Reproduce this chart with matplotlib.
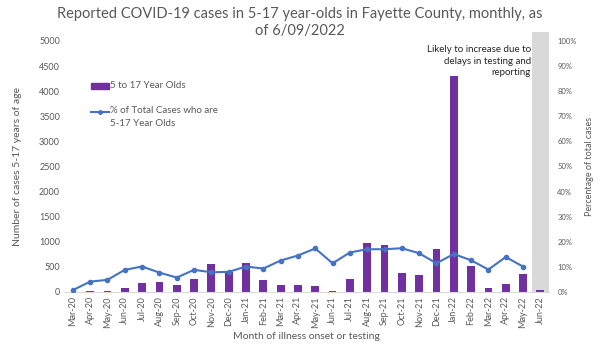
import matplotlib.pyplot as plt
from matplotlib.lines import Line2D
from matplotlib.patches import Rectangle

plt.rcParams['font.family'] = ['Lato', 'DejaVu Sans']

months = ["Mar-20", "Apr-20", "May-20", "Jun-20", "Jul-20", "Aug-20", "Sep-20",
          "Oct-20", "Nov-20", "Dec-20", "Jan-21", "Feb-21", "Mar-21", "Apr-21",
          "May-21", "Jun-21", "Jul-21", "Aug-21", "Sep-21", "Oct-21", "Nov-21",
          "Dec-21", "Jan-22", "Feb-22", "Mar-22", "Apr-22", "May-22", "Jun-22"]
cases = [5, 20, 20, 73, 180, 200, 145, 250, 550, 400, 580, 230, 145, 145,
         112, 20, 265, 965, 930, 370, 337, 860, 4300, 510, 73, 160, 357, 40]
# percent of total cases (no value for the last, partial month)
pct = [0.7, 4.1, 4.8, 8.8, 10.1, 7.7, 5.7, 8.8, 7.8, 8.0, 10.1, 9.3, 12.5, 14.5,
       17.3, 11.4, 15.7, 17.0, 17.0, 17.4, 15.4, 11.4, 15.1, 12.6, 8.9, 13.9, 10.1]

grey = '#595959'
purple = '#7030A0'
blue = '#4472C4'

fig = plt.figure(figsize=(6, 3.5), dpi=100)
fig.patch.set_facecolor('#ffffff')
ax = fig.add_axes([0.107, 0.166, 0.808, 0.717])
x = list(range(len(months)))

# shaded partial month
ax.axvspan(len(months) - 1.5, len(months) - 0.5, ymin=0, ymax=1.035,
           color='#d9d9d9', clip_on=False, zorder=0, lw=0)

ax.bar(x, cases, width=0.45, color=purple, zorder=2)
ax.set_ylim(0, 5000)
ax.set_xlim(-0.5, len(months) - 0.5)
ax.set_yticks(range(0, 5001, 500))
ax.set_xticks(x)
ax.set_xticklabels(months, rotation=90)
ax.tick_params(axis='both', length=0, labelsize=6.5, colors=grey, pad=3)
for s in ['top', 'right', 'left']:
    ax.spines[s].set_visible(False)
ax.spines['bottom'].set_color('#d9d9d9')
ax.set_ylabel("Number of cases 5-17 years of age", fontsize=7.5, color=grey, labelpad=12)
ax.set_xlabel("Month of illness onset or testing", fontsize=7.5, color=grey, labelpad=3)

ax2 = ax.twinx()
ax2.plot(x[:len(pct)], pct, color=blue, lw=1.5, marker='o', markersize=3, zorder=3)
ax2.set_ylim(0, 100)
ax2.set_yticks(range(0, 101, 10))
ax2.set_yticklabels([f"{v}%" for v in range(0, 101, 10)])
ax2.tick_params(axis='y', length=0, labelsize=5.5, colors=grey, pad=6)
for s in ['top', 'right', 'left', 'bottom']:
    ax2.spines[s].set_visible(False)
ax2.set_ylabel("Percentage of total cases", fontsize=6.5, color=grey, labelpad=6)

ax2.text(len(months) - 1.55, 98.5, "Likely to increase due to\ndelays in testing and\nreporting",
         ha='right', va='top', fontsize=7, color='#262626', linespacing=1.4)

fig.text(0.5, 0.98, "Reported COVID-19 cases in 5-17 year-olds in Fayette County, monthly, as\nof 6/09/2022",
         ha='center', va='top', fontsize=10.5, color=grey, linespacing=1.25)

# legend drawn by hand, figure pixel positions converted to fractions
fig.add_artist(Rectangle((91 / 600, 1 - 89 / 350), 18 / 600, 6 / 350,
                         transform=fig.transFigure, color=purple))
fig.text(110 / 600, 1 - 86 / 350, "5 to 17 Year Olds", fontsize=7, color=grey,
         va='center', ha='left')
fig.add_artist(Line2D([91 / 600, 109 / 600], [1 - 112 / 350] * 2, transform=fig.transFigure,
                      color=blue, lw=1.5))
fig.add_artist(Line2D([100 / 600], [1 - 112 / 350], transform=fig.transFigure,
                      color=blue, marker='o', markersize=2.5))
fig.text(110 / 600, 1 - 106 / 350, "% of Total Cases who are\n5-17 Year Olds", fontsize=7,
         color=grey, va='top', ha='left', linespacing=1.5)

fig.savefig('out.png', dpi=100)
